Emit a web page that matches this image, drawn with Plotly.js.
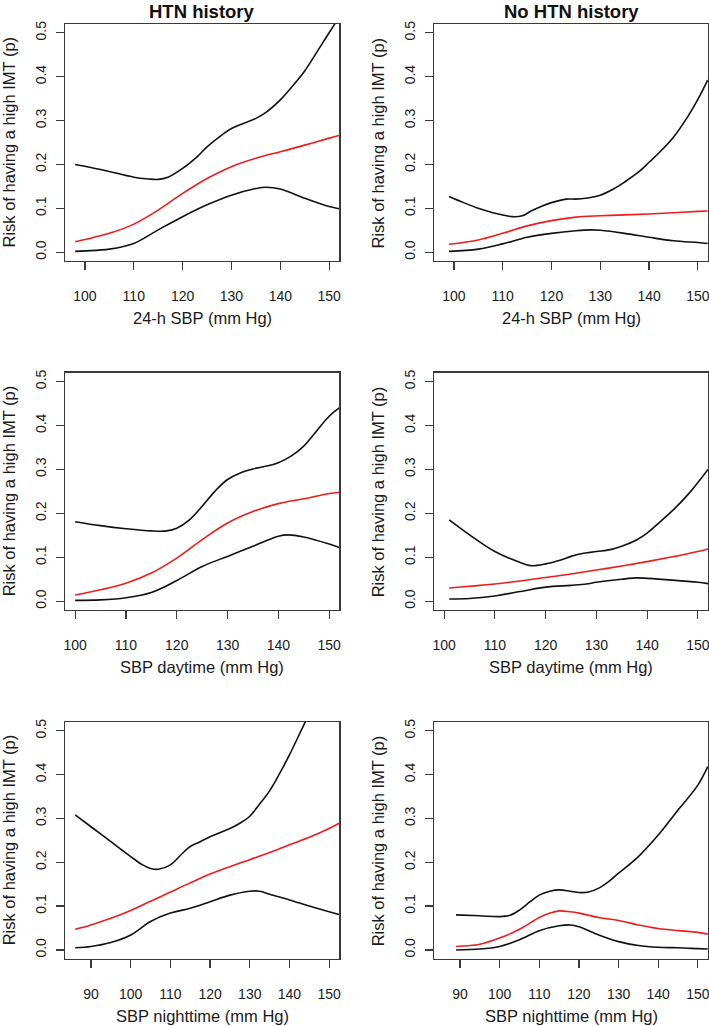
<!DOCTYPE html>
<html>
<head>
<meta charset="utf-8">
<script src="https://cdn.plot.ly/plotly-3.0.1.min.js"></script>
<style>html,body{margin:0;padding:0;background:#fff;}#chart{width:709px;height:1026px;}</style>
</head>
<body>
<div id="chart"></div>
<script>
// ---------- Data ----------
const colTitles = ["HTN history", "No HTN history"];
const xTitles = ["24-h SBP (mm Hg)", "SBP daytime (mm Hg)", "SBP nighttime (mm Hg)"];
const yTitle = "Risk of having a high IMT (p)";
const yTickVals = [0, 0.1, 0.2, 0.3, 0.4, 0.5];
const yTickText = ["0.0", "0.1", "0.2", "0.3", "0.4", "0.5"];
const xTickValsTop = [100, 110, 120, 130, 140, 150];
const xTickValsBottom = [90, 100, 110, 120, 130, 140, 150];

// Panel 1: HTN history, 24-h SBP
const p1UpperX = [98,100,105,110,113,115,117,120,123,125,128,130,135,137,140,143,145,148,150,152];
const p1UpperY = [0.200,0.196,0.184,0.171,0.167,0.166,0.171,0.191,0.218,0.240,0.267,0.282,0.305,0.318,0.347,0.385,0.413,0.465,0.500,0.535];
const p1FitX   = [98,100,105,110,115,120,125,130,135,140,145,150,152];
const p1FitY   = [0.024,0.029,0.043,0.064,0.096,0.134,0.168,0.195,0.214,0.229,0.244,0.260,0.266];
const p1LowerX = [98,100,105,110,115,120,125,130,135,137,140,145,150,152];
const p1LowerY = [0.002,0.003,0.007,0.020,0.051,0.081,0.108,0.130,0.145,0.148,0.144,0.123,0.104,0.099];

// Panel 2: No HTN history, 24-h SBP
const p2UpperX = [99,102,105,108,110,112,114,116,118,120,123,125,127,130,133,135,138,140,142,145,148,150,152];
const p2UpperY = [0.127,0.113,0.100,0.090,0.085,0.081,0.083,0.095,0.105,0.113,0.121,0.121,0.123,0.130,0.146,0.160,0.184,0.205,0.226,0.262,0.310,0.348,0.392];
const p2FitX   = [99,105,110,115,120,125,130,135,140,145,150,152];
const p2FitY   = [0.018,0.028,0.043,0.060,0.072,0.080,0.083,0.085,0.087,0.090,0.093,0.094];
const p2LowerX = [99,105,110,115,120,125,128,130,135,140,145,150,152];
const p2LowerY = [0.002,0.007,0.019,0.034,0.043,0.049,0.051,0.050,0.043,0.034,0.026,0.022,0.020];

// Panel 3: HTN history, SBP daytime
const p3UpperX = [100,105,110,115,118,120,122.5,125,127.5,130,132.5,135,137.5,140,142.5,145,147.5,150,152];
const p3UpperY = [0.181,0.172,0.165,0.160,0.160,0.166,0.185,0.216,0.250,0.277,0.292,0.301,0.307,0.315,0.330,0.353,0.387,0.421,0.440];
const p3FitX   = [100,105,110,115,120,125,130,135,140,145,150,152];
const p3FitY   = [0.014,0.026,0.041,0.064,0.098,0.140,0.178,0.204,0.222,0.233,0.245,0.248];
const p3LowerX = [100,105,110,115,120,125,130,135,140,142,145,150,152];
const p3LowerY = [0.002,0.003,0.008,0.020,0.047,0.079,0.102,0.125,0.148,0.151,0.146,0.130,0.122];

// Panel 4: No HTN history, SBP daytime
const p4UpperX = [101,105,110,115,117,120,123,125,127.5,130,133,135,138,140,142.5,145,148,150,152];
const p4UpperY = [0.185,0.151,0.113,0.088,0.081,0.085,0.094,0.102,0.109,0.113,0.118,0.125,0.140,0.155,0.180,0.206,0.242,0.270,0.300];
const p4FitX   = [101,105,110,115,120,125,130,135,140,145,150,152];
const p4FitY   = [0.030,0.034,0.039,0.046,0.054,0.062,0.071,0.080,0.090,0.101,0.113,0.119];
const p4LowerX = [101,105,110,115,120,125,128,130,135,138,140,145,150,152];
const p4LowerY = [0.005,0.006,0.012,0.022,0.032,0.036,0.039,0.043,0.050,0.053,0.052,0.048,0.043,0.040];

// Panel 5: HTN history, SBP nighttime
const p5UpperX = [86,90,95,100,103,105,107,110,113,115,117.5,120,125,127.5,130,132.5,135,137.5,140,142.5,145,146];
const p5UpperY = [0.308,0.281,0.247,0.213,0.194,0.186,0.184,0.194,0.220,0.236,0.247,0.258,0.277,0.289,0.305,0.333,0.363,0.402,0.445,0.492,0.540,0.560];
const p5FitX   = [86,90,95,100,105,110,115,120,125,130,135,140,145,150,152.5];
const p5FitY   = [0.047,0.057,0.072,0.090,0.111,0.132,0.153,0.173,0.190,0.206,0.222,0.240,0.257,0.277,0.289];
const p5LowerX = [86,90,95,100,105,110,115,120,125,130,132.5,135,140,145,150,152.5];
const p5LowerY = [0.005,0.008,0.017,0.034,0.065,0.084,0.095,0.110,0.125,0.134,0.134,0.127,0.114,0.100,0.087,0.081];

// Panel 6: No HTN history, SBP nighttime
const p6UpperX = [89,95,100,102.6,105,107.7,110,112.7,115,117.8,120,122.4,125,127.5,130,135,140,145,150,152.5];
const p6UpperY = [0.080,0.078,0.076,0.079,0.091,0.110,0.125,0.134,0.137,0.134,0.131,0.132,0.141,0.156,0.175,0.213,0.262,0.319,0.376,0.418];
const p6FitX   = [89,95,100,105,110,112.7,115,117.8,120,125,130,135,140,145,150,152.5];
const p6FitY   = [0.008,0.013,0.027,0.047,0.074,0.084,0.089,0.087,0.084,0.074,0.067,0.057,0.049,0.044,0.040,0.036];
const p6LowerX = [89,95,100,105,110,115,117.8,120,125,130,135,140,145,150,152.5];
const p6LowerY = [0.000,0.002,0.008,0.023,0.044,0.055,0.057,0.053,0.034,0.019,0.010,0.006,0.005,0.003,0.002];

// ---------- Layout geometry (pixels) ----------
const W = 709, H = 1026;
const colPx = [[65, 339.3], [434, 708]];
const rowPx = [[24, 261], [372.7, 610], [722, 958.7]];
const xRanges = [[95.92, 152.08], [98, 152], [83.44, 152.56]];
const yRange = [-0.02, 0.52];

const panels = [
  {ux:p1UpperX, uy:p1UpperY, fx:p1FitX, fy:p1FitY, lx:p1LowerX, ly:p1LowerY, r:0, c:0},
  {ux:p2UpperX, uy:p2UpperY, fx:p2FitX, fy:p2FitY, lx:p2LowerX, ly:p2LowerY, r:0, c:1},
  {ux:p3UpperX, uy:p3UpperY, fx:p3FitX, fy:p3FitY, lx:p3LowerX, ly:p3LowerY, r:1, c:0},
  {ux:p4UpperX, uy:p4UpperY, fx:p4FitX, fy:p4FitY, lx:p4LowerX, ly:p4LowerY, r:1, c:1},
  {ux:p5UpperX, uy:p5UpperY, fx:p5FitX, fy:p5FitY, lx:p5LowerX, ly:p5LowerY, r:2, c:0},
  {ux:p6UpperX, uy:p6UpperY, fx:p6FitX, fy:p6FitY, lx:p6LowerX, ly:p6LowerY, r:2, c:1}
];

const FONT = "Liberation Sans, Arial, Helvetica, sans-serif";
const AXC = "#3a3a3a";
const traces = [];
const layout = {
  width: W, height: H,
  margin: {l:0, r:0, t:0, b:0},
  paper_bgcolor: "#fff", plot_bgcolor: "#fff",
  showlegend: false,
  font: {family: FONT, color: "#1a1a1a"},
  annotations: []
};

panels.forEach((p, i) => {
  const k = i + 1;
  const xa = k === 1 ? "x" : "x" + k;
  const ya = k === 1 ? "y" : "y" + k;
  const lineStyle = (col) => ({color: col, width: 1.6, shape: "spline", smoothing: 1});
  traces.push({x: p.ux, y: p.uy, mode: "lines", line: lineStyle("#111"), xaxis: xa, yaxis: ya, hoverinfo: "skip"});
  traces.push({x: p.fx, y: p.fy, mode: "lines", line: lineStyle("#ee1c1c"), xaxis: xa, yaxis: ya, hoverinfo: "skip"});
  traces.push({x: p.lx, y: p.ly, mode: "lines", line: lineStyle("#111"), xaxis: xa, yaxis: ya, hoverinfo: "skip"});

  const cp = colPx[p.c], rp = rowPx[p.r];
  const xd = [cp[0] / W, cp[1] / W];
  const yd = [1 - rp[1] / H, 1 - rp[0] / H];
  const xKey = k === 1 ? "xaxis" : "xaxis" + k;
  const yKey = k === 1 ? "yaxis" : "yaxis" + k;
  layout[xKey] = {
    domain: xd, anchor: ya, range: xRanges[p.r],
    tickmode: "array", tickvals: p.r === 2 ? xTickValsBottom : xTickValsTop,
    ticks: "outside", ticklen: 8, tickwidth: 1.2, tickcolor: AXC,
    showline: true, mirror: true, linecolor: AXC, linewidth: 1.3,
    showgrid: false, zeroline: false,
    tickfont: {family: FONT, size: 14, color: "#1a1a1a"},
    ticklabelstandoff: 14, ticklabeloverflow: "allow"
  };
  layout[yKey] = {
    domain: yd, anchor: xa, range: yRange,
    tickmode: "array", tickvals: yTickVals, ticktext: yTickText, tickangle: -90,
    ticks: "outside", ticklen: 8, tickwidth: 1.2, tickcolor: AXC,
    showline: true, mirror: true, linecolor: AXC, linewidth: 1.3,
    showgrid: false, zeroline: false,
    tickfont: {family: FONT, size: 14, color: "#1a1a1a"},
    ticklabelstandoff: 4, ticklabeloverflow: "allow"
  };

  const cx = (cp[0] + cp[1]) / 2;
  const cy = (rp[0] + rp[1]) / 2;
  // x-axis title
  layout.annotations.push({
    text: xTitles[p.r], xref: "paper", yref: "paper",
    x: cx / W, y: 1 - (rp[1] + 57) / H, xanchor: "center", yanchor: "middle",
    showarrow: false, font: {family: FONT, size: 16.5, color: "#1a1a1a"}
  });
  // y-axis title
  layout.annotations.push({
    text: yTitle, xref: "paper", yref: "paper", textangle: -90,
    x: (cp[0] - 56) / W, y: 1 - cy / H, xanchor: "center", yanchor: "middle",
    showarrow: false, font: {family: FONT, size: 16.5, color: "#1a1a1a"}
  });
  // column title
  if (p.r === 0) {
    layout.annotations.push({
      text: "<b>" + colTitles[p.c] + "</b>", xref: "paper", yref: "paper",
      x: cx / W, y: 1, xanchor: "center", yanchor: "top", borderpad: 0,
      showarrow: false, font: {family: FONT, size: 18.5, color: "#111"}
    });
  }
});

Plotly.newPlot("chart", traces, layout, {displayModeBar: false, staticPlot: true});
</script>
</body>
</html>
